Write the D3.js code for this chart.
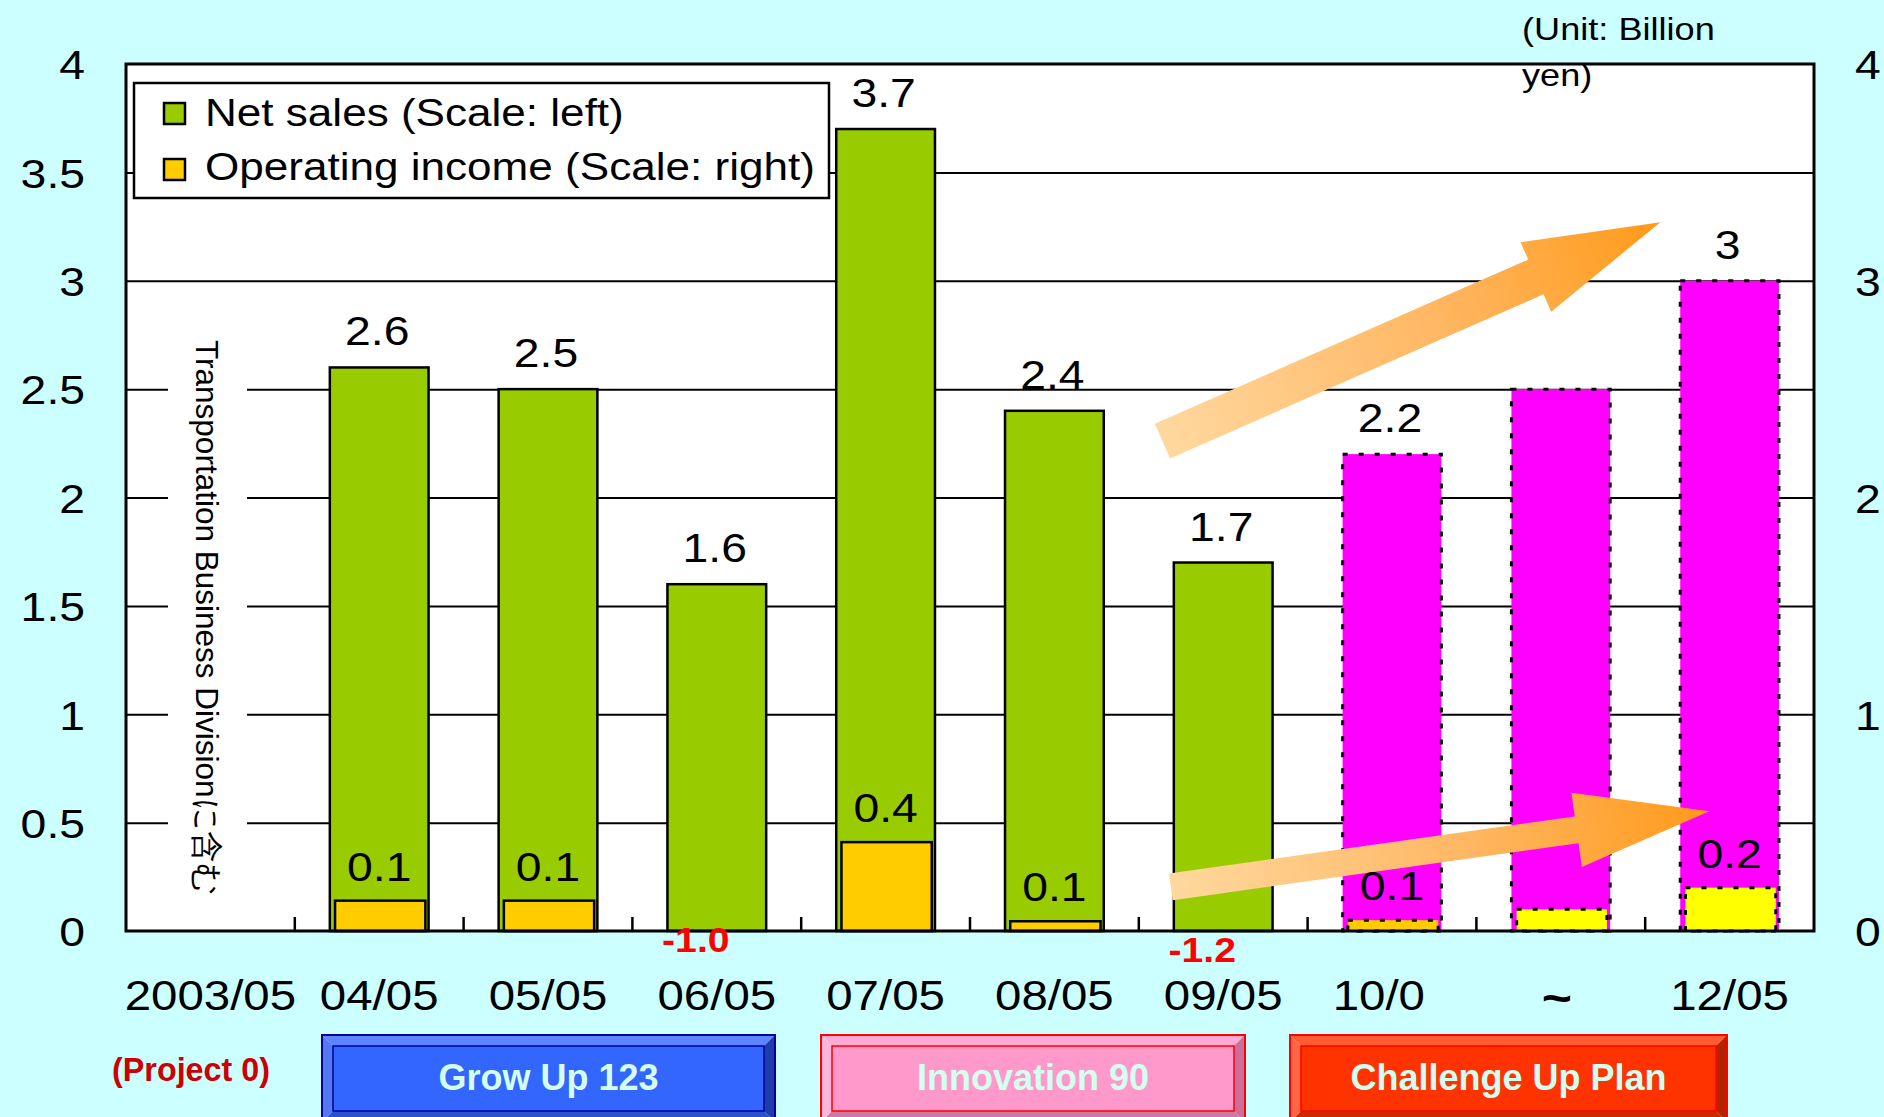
<!DOCTYPE html>
<html><head><meta charset="utf-8">
<script src="https://cdn.jsdelivr.net/npm/d3@7"></script>
<style>html,body{margin:0;padding:0;background:#CCFFFF;overflow:hidden}svg{display:block}</style>
</head><body>
<svg id="c" width="1884" height="1117"></svg>
<script>
// ---------------- data ----------------
const categories = ["2003/05","04/05","05/05","06/05","07/05","08/05","09/05","10/0","~","12/05"];
const period = ["result","result","result","result","result","result","result","estimate","plan","plan"];
const netSales = [null, 2.6, 2.5, 1.6, 3.7, 2.4, 1.7, 2.2, 2.5, 3.0];
const netSalesLabels = ["", "2.6", "2.5", "1.6", "3.7", "2.4", "1.7", "2.2", "", "3"];
const opIncome = [null, 0.14, 0.14, -1.0, 0.41, 0.045, -1.2, 0.05, 0.1, 0.2];
const opIncomeLabels = ["", "0.1", "0.1", "-1.0", "0.4", "0.1", "-1.2", "0.1", "", "0.2"];
const leftTicks = [0, 0.5, 1, 1.5, 2, 2.5, 3, 3.5, 4];
const rightTicks = [0, 1, 2, 3, 4];
const legendLabels = ["Net sales (Scale: left)", "Operating income (Scale: right)"];
const planNames = ["(Project 0)", "Grow Up 123", "Innovation 90", "Challenge Up Plan"];
const unitLines = ["(Unit: Billion", "yen)"];
const sideNote = "Transportation Business Divisionに含む";

// ---------------- layout ----------------
const W = 1884, H = 1117;
const P = {l: 126, r: 1814, t: 64, b: 931};
const FONT = "'Liberation Sans', Arial, Helvetica, sans-serif";
const SX = 1.13;

const svg = d3.select("#c").attr("font-family", FONT);
svg.append("rect").attr("width", W).attr("height", H).attr("fill", "#CCFFFF");

const x = d3.scaleBand().domain(categories).range([P.l, P.r]).paddingInner(0).paddingOuter(0);
const xi = d3.scaleLinear().domain([0, categories.length]).range([P.l, P.r]);
const yL = d3.scaleLinear().domain([0, 4]).range([P.b, P.t]);
const yR = d3.scaleLinear().domain([0, 4]).range([P.b, P.t]);
const bw = x.bandwidth();

function T(parent, px, py, str, o = {}) {
  return parent.append("text")
    .attr("transform", `translate(${px},${py}) scale(${o.sx ?? SX},1)`)
    .attr("text-anchor", o.anchor || "middle")
    .attr("font-size", o.size || 41)
    .attr("font-weight", o.weight || "normal")
    .attr("fill", o.fill || "#000")
    .text(str);
}

// plot background
svg.append("rect").attr("x", P.l).attr("y", P.t).attr("width", P.r - P.l).attr("height", P.b - P.t).attr("fill", "#fff");

// gridlines
const grid = svg.append("g").attr("transform", `translate(${P.l},0)`)
  .call(d3.axisLeft(yL).tickValues(leftTicks.filter(v => v > 0 && v < 4)).tickSize(-(P.r - P.l)).tickFormat(""));
grid.select(".domain").remove();
grid.selectAll("line").attr("stroke", "#000").attr("stroke-width", 2);

// side note box (covers gridlines)
svg.append("rect").attr("x", 168).attr("y", 336).attr("width", 79).attr("height", 566).attr("fill", "#fff");
svg.append("text").attr("transform", "translate(196,340) rotate(90)")
  .attr("font-size", 31.5).attr("text-anchor", "start").attr("fill", "#000")
  .text(sideNote);

// net sales bars
const nsW = bw * 0.585;
const nsData = categories.map((c, i) => ({c, i, v: netSales[i], p: period[i], lab: netSalesLabels[i]}));
svg.append("g").selectAll("rect").data(nsData.filter(d => d.v != null)).join("rect")
  .attr("x", d => x(d.c) + (bw - nsW) / 2)
  .attr("y", d => yL(d.v))
  .attr("width", nsW)
  .attr("height", d => yL(0) - yL(d.v))
  .attr("fill", d => d.p === "result" ? "#99CC00" : "#FF00FF")
  .attr("stroke", "#000")
  .attr("stroke-width", d => d.p === "result" ? 2.5 : 3)
  .attr("stroke-dasharray", d => d.p === "result" ? null : "5,11");

// operating income bars (right axis, clipped at 0)
const opW = bw * 0.535;
const opData = categories.map((c, i) => ({c, i, v: opIncome[i], p: period[i], lab: opIncomeLabels[i]}));
svg.append("g").selectAll("rect").data(opData.filter(d => d.v != null && d.v > 0)).join("rect")
  .attr("x", d => x(d.c) + (bw - opW) / 2 + 1)
  .attr("y", d => yR(d.v))
  .attr("width", opW)
  .attr("height", d => yR(0) - yR(d.v))
  .attr("fill", d => d.p === "plan" ? "#FFFF00" : "#FFCC00")
  .attr("stroke", "#000")
  .attr("stroke-width", d => d.p === "result" ? 2.5 : 3)
  .attr("stroke-dasharray", d => d.p === "result" ? null : "5,11");

// plot border
svg.append("rect").attr("x", P.l).attr("y", P.t).attr("width", P.r - P.l).attr("height", P.b - P.t)
  .attr("fill", "none").attr("stroke", "#000").attr("stroke-width", 3);

// category tick marks (band boundaries, pointing up)
svg.append("g").selectAll("line").data(d3.range(1, categories.length)).join("line")
  .attr("x1", i => xi(i)).attr("x2", i => xi(i))
  .attr("y1", P.b).attr("y2", P.b - 14)
  .attr("stroke", "#000").attr("stroke-width", 2.5);

// left axis labels
const axL = svg.append("g").attr("transform", `translate(${P.l},0)`)
  .call(d3.axisLeft(yL).tickValues(leftTicks).tickSize(0).tickFormat(d3.format("")));
axL.select(".domain").remove();
axL.attr("font-family", FONT).attr("font-size", 41);
axL.selectAll("text").attr("x", -41 / SX).attr("dy", "0.36em").attr("fill", "#000")
  .attr("transform", `scale(${SX},1)`);

// right axis labels
const axR = svg.append("g").attr("transform", `translate(${P.r},0)`)
  .call(d3.axisRight(yR).tickValues(rightTicks).tickSize(0).tickFormat(d3.format("")));
axR.select(".domain").remove();
axR.attr("font-family", FONT).attr("font-size", 41);
axR.selectAll("text").attr("x", 41 / SX).attr("dy", "0.36em").attr("fill", "#000")
  .attr("transform", `scale(${SX},1)`);

// x labels (short labels share a common left edge, like the "00/00" ones)
const shortHalf = 42 * SX * (0.556 * 4 + 0.278) / 2;
categories.forEach((c, i) => {
  const cx = x(c) + bw / 2;
  if (c === "~") T(svg, cx - 4, 1014, c, {size: 46, weight: "bold"});
  else if (c.length <= 5) T(svg, cx - shortHalf, 1010, c, {size: 42, anchor: "start"});
  else T(svg, cx, 1010, c, {size: 42});
});

// trend arrows (annotation, in category-index / value coordinates)
const trendArrows = [
  {from: [6.14, 2.26], to: [9.09, 3.27], shaft: 38, head: 76, headLen: 136},
  {from: [6.19, 0.204], to: [9.38, 0.553], shaft: 27, head: 75, headLen: 134}
];
const defs = svg.append("defs");
trendArrows.forEach((a, k) => {
  const x0 = xi(a.from[0]), y0 = yL(a.from[1]), x1 = xi(a.to[0]), y1 = yL(a.to[1]);
  const dx = x1 - x0, dy = y1 - y0, L = Math.hypot(dx, dy);
  const ux = dx / L, uy = dy / L, nx = -uy, ny = ux;
  const bx = x1 - ux * a.headLen, by = y1 - uy * a.headLen;
  const s = a.shaft / 2, h = a.head / 2;
  const pts = [
    [x0 + nx * s, y0 + ny * s], [bx + nx * s, by + ny * s], [bx + nx * h, by + ny * h],
    [x1, y1],
    [bx - nx * h, by - ny * h], [bx - nx * s, by - ny * s], [x0 - nx * s, y0 - ny * s]
  ];
  const g = defs.append("linearGradient").attr("id", "ag" + k).attr("gradientUnits", "userSpaceOnUse")
    .attr("x1", x0).attr("y1", y0).attr("x2", x1).attr("y2", y1);
  g.append("stop").attr("offset", 0).attr("stop-color", "#FFD89E");
  g.append("stop").attr("offset", 0.55).attr("stop-color", "#FFB763");
  g.append("stop").attr("offset", 1).attr("stop-color", "#FF9A1A");
  svg.append("path").attr("d", "M" + pts.map(p => p.join(",")).join("L") + "Z").attr("fill", `url(#ag${k})`);
});

// net sales value labels
nsData.filter(d => d.v != null && d.lab).forEach(d => {
  T(svg, x(d.c) + bw / 2 - 2, yL(d.v) - 22, d.lab, {size: 41});
});

// operating income value labels
opData.filter(d => d.v != null && d.lab).forEach(d => {
  if (d.v >= 0) T(svg, x(d.c) + bw / 2, yR(d.v) - 20, d.lab, {size: 41});
  else T(svg, x(d.c) + bw / 2 - 21, yR(0) + 21 + (-d.v - 1) * 52, d.lab, {size: 35, weight: "bold", fill: "#FF0000", sx: 1.12});
});

// legend
const lg = svg.append("g");
lg.append("rect").attr("x", 134).attr("y", 83).attr("width", 695).attr("height", 115)
  .attr("fill", "#fff").attr("stroke", "#000").attr("stroke-width", 2.5);
const legendFill = ["#99CC00", "#FFCC00"];
legendLabels.forEach((lab, i) => {
  lg.append("rect").attr("x", 164).attr("y", 103 + i * 56).attr("width", 21).attr("height", 21)
    .attr("fill", legendFill[i]).attr("stroke", "#000").attr("stroke-width", 2.5);
  T(lg, 205, 126 + i * 54, lab, {size: 38, anchor: "start", sx: 1.16});
});

// unit note
unitLines.forEach((t, i) => T(svg, 1522, 40 + i * 46, t, {size: 32, anchor: "start"}));

// plan boxes
T(svg, 191, 1081, planNames[0], {size: 34, weight: "bold", fill: "#CC0000", sx: 0.95});
const planBoxes = [
  {x0: 322, x1: 775, face: "#3366FF", top: "#5E85FF", left: "#5577F2", bottom: "#2A52CC", right: "#1F3DAA", line: "#000099"},
  {x0: 821, x1: 1245, face: "#FF99CC", top: "#FFAAD4", left: "#FFB3D9", bottom: "#CC7AA3", right: "#CC6E99", line: "#FF0000"},
  {x0: 1290, x1: 1727, face: "#FF3300", top: "#FF5C33", left: "#FF6644", bottom: "#CC2900", right: "#B32400", line: "#FF0000"}
];
const by0 = 1035, by1 = 1122, bev = 11;
planBoxes.forEach((b, i) => {
  const g = svg.append("g");
  const poly = (pts, fill) => g.append("path").attr("d", "M" + pts.map(p => p.join(",")).join("L") + "Z").attr("fill", fill);
  poly([[b.x0, by0], [b.x1, by0], [b.x1 - bev, by0 + bev], [b.x0 + bev, by0 + bev]], b.top);
  poly([[b.x0, by1], [b.x1, by1], [b.x1 - bev, by1 - bev], [b.x0 + bev, by1 - bev]], b.bottom);
  poly([[b.x0, by0], [b.x0 + bev, by0 + bev], [b.x0 + bev, by1 - bev], [b.x0, by1]], b.left);
  poly([[b.x1, by0], [b.x1 - bev, by0 + bev], [b.x1 - bev, by1 - bev], [b.x1, by1]], b.right);
  g.append("rect").attr("x", b.x0 + bev).attr("y", by0 + bev).attr("width", b.x1 - b.x0 - 2 * bev).attr("height", by1 - by0 - 2 * bev)
    .attr("fill", b.face).attr("stroke", b.line).attr("stroke-width", 1.5);
  g.append("rect").attr("x", b.x0).attr("y", by0).attr("width", b.x1 - b.x0).attr("height", by1 - by0)
    .attr("fill", "none").attr("stroke", b.line).attr("stroke-width", 2);
  T(g, (b.x0 + b.x1) / 2, 1090, planNames[i + 1], {size: 36, weight: "bold", fill: "#D4FFF0", sx: 1.0});
});
</script>
</body></html>
